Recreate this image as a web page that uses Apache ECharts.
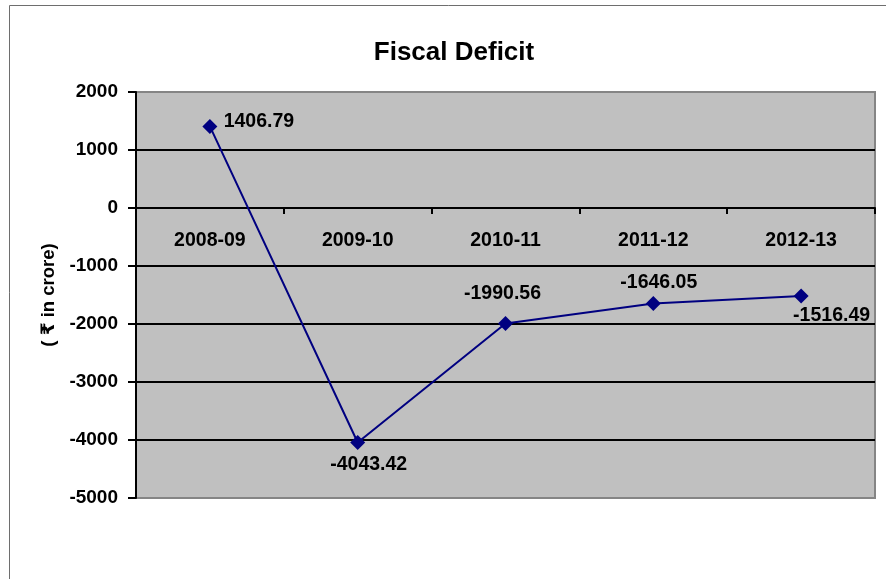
<!DOCTYPE html>
<html>
<head>
<meta charset="utf-8">
<script src="https://cdn.jsdelivr.net/npm/echarts@6/dist/echarts.min.js"></script>
<style>
  html, body { margin: 0; padding: 0; background: #ffffff; }
  #chart { width: 886px; height: 579px; }
</style>
</head>
<body>
<div id="chart"></div>
<script>
// Fiscal deficit by year (₹ in crore)
const years = ['2008-09', '2009-10', '2010-11', '2011-12', '2012-13'];
const deficit = [1406.79, -4043.42, -1990.56, -1646.05, -1516.49];
const yTicks = [-5000, -4000, -3000, -2000, -1000, 0, 1000, 2000];

// Offset of each value label's centre from its marker
const labelOffsets = [[49, -4.5], [11, 22.5], [-3, -29.5], [5.5, -21], [30.5, 20]];

const font = '"Liberation Sans", Arial, "DejaVu Sans", sans-serif';

const chart = echarts.init(document.getElementById('chart'), null, { renderer: 'canvas' });

chart.setOption({
  animation: false,
  backgroundColor: '#ffffff',
  title: {
    text: 'Fiscal Deficit',
    left: 449,
    top: 35,
    textAlign: 'center',
    textStyle: { fontFamily: font, fontSize: 26, fontWeight: 'bold', color: '#000' }
  },
  graphic: [{
    type: 'rect',
    shape: { x: 9.5, y: 5.5, width: 900, height: 600 },
    style: { fill: 'none', stroke: '#6e6e6e', lineWidth: 1 },
    z: -1
  }],
  grid: {
    left: 136,
    top: 92,
    right: 11,
    bottom: 81,
    show: true,
    backgroundColor: '#c0c0c0',
    borderColor: '#858585',
    borderWidth: 2
  },
  xAxis: {
    type: 'category',
    data: years,
    boundaryGap: true,
    axisLine: { onZero: true, lineStyle: { color: '#000', width: 2 } },
    axisTick: { show: true, inside: false, length: 6, alignWithLabel: false, lineStyle: { color: '#000', width: 2 } },
    // category names sit just under the zero line
    axisLabel: { margin: -267, fontFamily: font, fontSize: 19.5, fontWeight: 'bold', color: '#000' },
    splitLine: { show: false }
  },
  yAxis: {
    type: 'value',
    min: yTicks[0],
    max: yTicks[yTicks.length - 1],
    interval: 1000,
    name: '( ₹ in crore)',
    nameLocation: 'middle',
    nameRotate: 90,
    nameGap: 77,
    nameTextStyle: { fontFamily: font, fontSize: 18.5, fontWeight: 'bold', color: '#000' },
    axisLine: { show: true, lineStyle: { color: '#000', width: 2 } },
    axisTick: { show: true, length: 8, lineStyle: { color: '#000', width: 2 } },
    axisLabel: {
      margin: 18,
      formatter: v => String(v),
      fontFamily: font, fontSize: 19, fontWeight: 'bold', color: '#000'
    },
    splitLine: { show: true, showMinLine: false, showMaxLine: false, lineStyle: { color: '#000', width: 2 } }
  },
  series: [{
    type: 'line',
    data: deficit.map((v, i) => ({
      value: v,
      label: {
        show: true,
        position: 'inside',
        offset: labelOffsets[i],
        formatter: () => v.toFixed(2)
      }
    })),
    symbol: 'diamond',
    symbolSize: 15,
    lineStyle: { color: '#000080', width: 2 },
    itemStyle: { color: '#000080' },
    label: {
      fontFamily: font,
      fontSize: 19.5,
      fontWeight: 'bold',
      color: '#000'
    },
    z: 5
  }]
});
</script>
</body>
</html>
